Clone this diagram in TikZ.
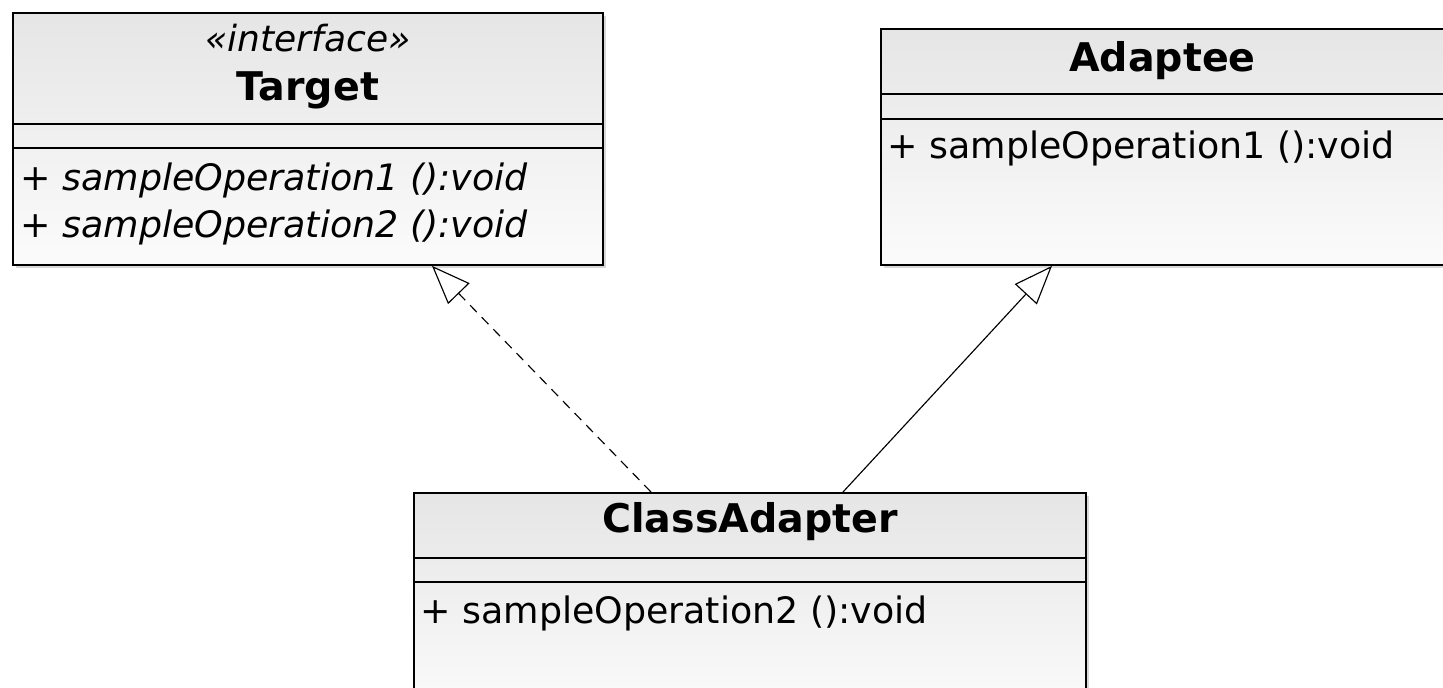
\documentclass[tikz,border=0pt]{standalone}
\usepackage{fontspec}
\setmainfont{DejaVu Sans}
\usetikzlibrary{arrows.meta,calc,shadows}

\tikzset{
    classbox/.style={draw, rectangle, line width=1.1pt, inner sep=0pt, anchor=north west,
        top color=gray!20, bottom color=gray!3,
        drop shadow={opacity=0.3, shadow xshift=1.8pt, shadow yshift=-1.8pt}},
    divider/.style={line width=1.1pt},
    classname/.style={font=\fontsize{22.5}{27}\selectfont\bfseries, anchor=base, inner sep=0pt},
    stereotype/.style={font=\fontsize{20.5}{25}\selectfont\itshape, anchor=base, inner sep=0pt},
    member/.style={font=\fontsize{20.7}{25}\selectfont, anchor=base west, inner sep=0pt},
    realizes/.style={line width=0.65pt, dash pattern=on 5.5pt off 4pt,
        -{Triangle[open, length=22pt, width=17pt]}},
    extends/.style={line width=0.65pt, -{Triangle[open, length=22pt, width=17pt]}},
}

\begin{document}
\begin{tikzpicture}[x=0.02cm, y=-0.02cm]
    \fill[white] (0,0) rectangle (1443,687);
    \clip (0,0) rectangle (1443,687);

    % Target interface
    \node[classbox, minimum width=11.8cm, minimum height=5.04cm] (target) at (12,12) {};
    \draw[divider] ($(target.north west)+(0,112)$) -- ($(target.north east)+(0,112)$);
    \draw[divider] ($(target.north west)+(0,136)$) -- ($(target.north east)+(0,136)$);
    \node[stereotype] (targetstereo) at ($(target.north)+(0,39)$) {«interface»};
    \node[classname] (targetname) at ($(target.north)+(0,88)$) {Target};
    \node[member] (targetop1) at ($(target.north west)+(8,178)$) {\itshape + sampleOperation1 ():void};
    \node[member] (targetop2) at ($(target.north west)+(8,225)$) {\itshape + sampleOperation2 ():void};

    % Adaptee class
    \node[classbox, minimum width=11.26cm, minimum height=4.72cm] (adaptee) at (880,28) {};
    \draw[divider] ($(adaptee.north west)+(0,66)$) -- ($(adaptee.north east)+(0,66)$);
    \draw[divider] ($(adaptee.north west)+(0,91)$) -- ($(adaptee.north east)+(0,91)$);
    \node[classname] (adapteename) at ($(adaptee.north)+(0,43)$) {Adaptee};
    \node[member] (adapteeop1) at ($(adaptee.north west)+(7,130)$) {+ sampleOperation1 ():void};

    % ClassAdapter class
    \node[classbox, minimum width=13.44cm, minimum height=4.4cm] (adapter) at (413,492) {};
    \draw[divider] ($(adapter.north west)+(0,66)$) -- ($(adapter.north east)+(0,66)$);
    \draw[divider] ($(adapter.north west)+(0,90)$) -- ($(adapter.north east)+(0,90)$);
    \node[classname] (adaptername) at ($(adapter.north)+(0,40)$) {ClassAdapter};
    \node[member] (adapterop2) at ($(adapter.north west)+(7,131)$) {+ sampleOperation2 ():void};

    % Relations
    \coordinate (realizefrom) at ($(adapter.north west)+(238,0)$);
    \coordinate (realizeto) at ($(target.south west)+(420,0)$);
    \coordinate (extendfrom) at ($(adapter.north west)+(430,0)$);
    \coordinate (extendto) at ($(adaptee.south west)+(172,0)$);
    \draw[realizes] (realizefrom) -- (realizeto);
    \draw[extends] (extendfrom) -- (extendto);
\end{tikzpicture}
\end{document}
